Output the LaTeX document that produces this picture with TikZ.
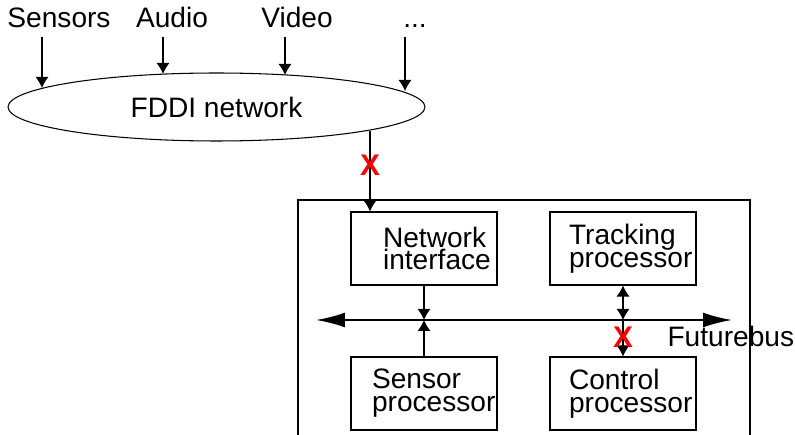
\documentclass[tikz,border=0pt]{standalone}
\usepackage{fontspec}
\setmainfont{Liberation Sans}
\usetikzlibrary{arrows.meta,positioning,shapes.geometric}

\begin{document}
\begin{tikzpicture}[x=0.02cm,y=-0.02cm,>={Latex[length=0.22cm,width=0.26cm]},line width=0.6pt,
  lbl/.style={font=\fontsize{16}{13}\selectfont},
  box/.style={lbl,draw,align=left,minimum width=2.92cm,minimum height=1.46cm,inner sep=0},
  cut/.style={font=\fontsize{17}{17}\selectfont\bfseries,text=red,inner sep=0}]
\useasboundingbox (0,0) rectangle (795,435);
% sources and the FDDI ring
\node[lbl,anchor=base] (sensors) at (59,28) {Sensors};
\node[lbl,anchor=base] (audio) at (172,28) {Audio};
\node[lbl,anchor=base] (video) at (297,28) {Video};
\node[lbl,anchor=base] (more) at (415,28) {...};
\node[lbl,draw,ellipse,minimum width=8.34cm,minimum height=1.36cm,inner sep=0] (fddi) at (216.5,107) {FDDI network};
\coordinate (sensorsin) at (42,88);
\coordinate (audioin) at (163,74);
\coordinate (videoin) at (285,75);
\coordinate (morein) at (405,91);
\draw[->] (sensorsin |- 0,37) -- (sensorsin);
\draw[->] (audioin |- 0,37) -- (audioin);
\draw[->] (videoin |- 0,37) -- (videoin);
\draw[->] (morein |- 0,37) -- (morein);
% the node
\draw (298,435) -- (298,200) -- (750,200) -- (750,435);
\node[box,text width=1.64cm] (ni) at (424,248.5) {Network\\interface};
\node[box,text width=2.16cm] (tp) at (623,248.5) {Tracking\\processor};
\node[box,text width=2.08cm] (sp) at (424,393.5) {Sensor\\processor};
\node[box,text width=2.16cm] (cp) at (623,393.5) {Control\\processor};
\coordinate (fddiout) at (370,131);
\draw[->] (fddiout) -- (fddiout |- ni.north);
% Futurebus
\coordinate (busl) at (316,320);
\coordinate (busr) at (732,320);
\draw[{Latex[length=0.58cm,width=0.3cm]}-{Latex[length=0.58cm,width=0.3cm]},line width=1.2pt] (busl) -- (busr);
\node[lbl,anchor=base west,inner sep=0] (bus) at (667,347) {Futurebus};
\draw[->] (ni.south) -- (ni.south |- busl);
\draw[->] (sp.north) -- (sp.north |- busl);
\draw[<->] (tp.south) -- (tp.south |- busl);
\draw[->] (cp.north |- busl) -- (cp.north);
% failures
\node[cut] (xnet) at (370,165) {X};
\node[cut] (xbus) at (623,337) {X};
\end{tikzpicture}
\end{document}
